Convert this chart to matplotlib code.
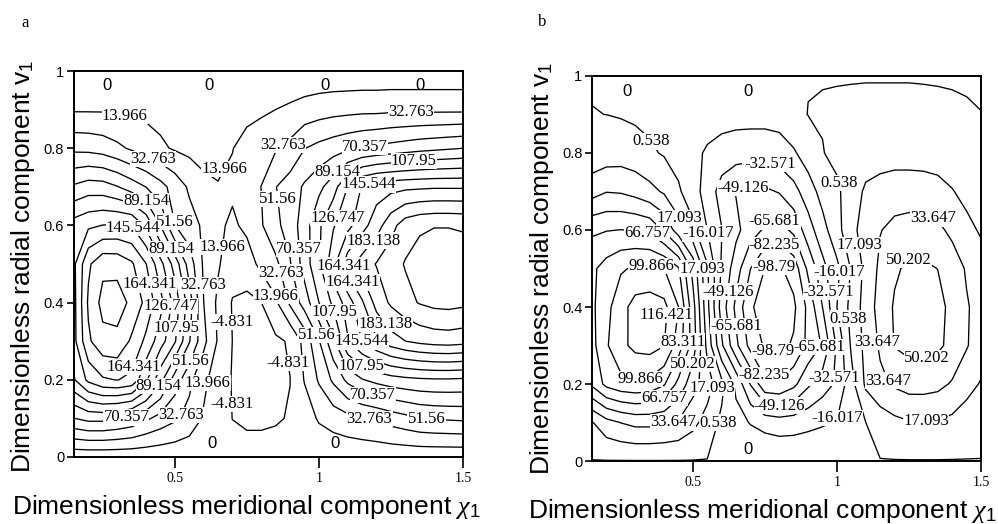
import numpy as np
import matplotlib
matplotlib.use('Agg')
import matplotlib.pyplot as plt

plt.rcParams['font.family'] = 'Liberation Serif'
plt.rcParams['mathtext.fontset'] = 'custom'
plt.rcParams['mathtext.rm'] = 'Liberation Sans'
plt.rcParams['mathtext.it'] = 'Liberation Serif:italic'
plt.rcParams['contour.negative_linestyle'] = 'solid'

# grid of the field (meridional x radial)
X_VALUES = [0.15, 0.2, 0.25, 0.3, 0.35, 0.4, 0.45, 0.5, 0.55, 0.6, 0.65, 0.7, 0.75, 0.8,
            0.85, 0.9, 0.95, 1.0, 1.05, 1.1, 1.15, 1.2, 1.25, 1.3, 1.35, 1.4, 1.45, 1.5]
Y_VALUES = [0.0, 0.1, 0.2, 0.3, 0.4, 0.5, 0.6, 0.7, 0.8, 0.9, 1.0]

LEVELS_A = [-4.831, 13.966, 32.763, 51.56, 70.357, 89.154, 107.95, 126.747,
            145.544, 164.341, 183.138, 201.935, 220.732]
LEVELS_B = [-98.79, -82.235, -65.681, -49.126, -32.571, -16.017, 0.538,
            17.093, 33.647, 50.202, 66.757, 83.311, 99.866, 116.421]

# panel a, one row per radial position
A_Y00 = [0, 0, 0, 0, 0, 0, 0, 0, 0, 0, 0, 0, 0, 0, 0, 0, 0, 0, 0, 0, 0, 0, 0, 0, 0, 0, 0, 0]
A_Y01 = [70, 76, 76, 72, 66, 55, 45, 36, 26, 12, 2, -5, -7, -7, -6, -4, 5, 16, 22, 27, 31, 35, 41, 46, 51, 53, 54, 55]
A_Y02 = [125, 150, 162, 165, 160, 130, 95, 62, 38, 18, 5, -6, -9, -9, -8, -5, 15, 35, 55, 75, 88, 95, 100, 103, 105, 106, 106, 105]
A_Y03 = [140, 180, 196, 197, 180, 160, 135, 110, 72, 38, 12, -5, -9, -10, -8, -3, 20, 50, 85, 125, 146, 162, 175, 183, 188, 191, 192, 190]
A_Y04 = [140, 186, 208, 210, 198, 178, 152, 120, 80, 33, 10, -6, -9, -5, 11, 36, 60, 89, 112, 136, 162, 190, 205, 215, 222, 226, 227, 225]
A_Y05 = [142, 180, 197, 196, 186, 165, 133, 100, 62, 30, 16, 3, 5, 19, 28, 50, 79, 105, 140, 175, 192, 203, 213, 222, 228, 231, 231, 229]
A_Y06 = [135, 142, 146, 147, 145, 123, 89, 52, 40, 30, 17, 11, 18, 31, 47, 60, 80, 105, 125, 140, 157, 175, 195, 212, 218, 220, 220, 219]
A_Y07 = [92, 98, 97, 90, 80, 70, 58, 44, 30, 18, 15, 17, 25, 33, 51, 60, 73, 84, 100, 127, 147, 155, 158, 160, 161, 162, 162, 162]
A_Y08 = [47, 46, 43, 37, 30, 24, 17, 12, 9, 8, 8, 13.5, 20, 25, 31, 38, 51, 57, 62, 67, 71, 74, 77, 80, 83, 85, 87, 89]
A_Y09 = [12, 12, 12, 11, 10, 9, 8, 7, 6, 6, 6, 7, 9, 11, 14, 17, 21, 24, 26, 27, 28, 28, 29, 29, 29, 29, 29, 29]
A_Y10 = [0, 0, 0, 0, 0, 0, 0, 0, 0, 0, 0, 0, 0, 0, 0, 0, 0, 0, 0, 0, 0, 0, 0, 0, 0, 0, 0, 0]

# panel b
B_Y00 = [0, 0, 0, 0, 0, 0, 0, 0, 0, 0, 0, 0, 0, 0, 0, 0, 0, 0, 0, 0, 0, 0, 0, 0, 0, 0, 0, 0]
B_Y01 = [16, 28, 34, 38, 38, 36, 32, 22, 10, -3, -10, -17, -22, -25, -24, -21, -18, -15, -6, 0.5, 8, 13, 16, 16.5, 16, 13, 10, 8]
B_Y02 = [70, 88, 95, 97, 95, 85, 62, 40, 25, 5, -20, -50, -78, -80, -70, -52, -40, -30, -5, 20, 30, 36, 40, 40, 38, 32, 22, 16]
B_Y03 = [78, 98, 112, 121, 123, 117, 92, 60, 12, -30, -62, -88, -101, -103, -97, -78, -64, -30, 3, 22, 36, 51, 55, 56, 53, 46, 35, 24]
B_Y04 = [80, 95, 110, 123, 125, 121, 100, 57, 5, -40, -70, -97, -105, -108, -102, -78, -49, -16, 6, 24, 40, 52, 57, 58, 55, 46, 35, 28]
B_Y05 = [80, 90, 98, 102, 103, 100, 85, 45, 3, -35, -58, -82, -99, -101, -92, -62, -38, -20, 2, 22, 37, 48, 53, 53, 50, 42, 32, 25]
B_Y06 = [64, 66, 67, 66, 63, 48, 25, 5, -16, -32, -45, -58, -68, -72, -62, -40, -22, -5, 12, 25, 33, 38, 40, 40, 37, 30, 22, 15]
B_Y07 = [27, 33, 32, 28, 22, 15, 3, -10, -22, -40, -50, -53, -52, -48, -38, -24, -10, -2, 8, 20, 24, 26, 26, 25, 23, 18, 12, 8]
B_Y08 = [6, 8, 9, 7, 3, -1, -6, -12, -18, -22, -25, -26, -26, -24, -18, -8, 0, 4, 6, 8, 9, 10, 10, 10, 9, 7, 5, 3]
B_Y09 = [0.7, 0.5, -0.5, -2, -3.5, -5, -6, -8, -9, -10, -10, -10, -10, -9, -3, 0.8, 1.5, 2, 2.5, 3, 3, 3, 3, 2.5, 2, 1.5, 1, 0.6]
B_Y10 = [0, 0, 0, 0, 0, 0, 0, 0, 0, 0, 0, 0, 0, 0, 0, 0, 0, 0, 0, 0, 0, 0, 0, 0, 0, 0, 0, 0]

Y_TICKS = [0, 0.2, 0.4, 0.6, 0.8, 1]
Y_TICKLABELS = ['0', '0.2', '0.4', '0.6', '0.8', '1']
X_TICKS = [0.5, 1, 1.5]
X_TICKLABELS = ['0.5', '1', '1.5']


def drawPanel(ax, rows, levels, labelPos, zeroPos):
    z = np.array(rows, dtype=float)
    cs = ax.contour(X_VALUES, Y_VALUES, z, levels=levels, colors='black',
                    linewidths=0.95, linestyles='solid')
    fmt = {lev: f'{lev:g}' for lev in levels}
    texts = ax.clabel(cs, fmt=fmt, fontsize=12, inline=False, manual=labelPos)
    for t in texts:
        t.set_rotation(0)
        t.set_bbox(dict(facecolor='white', edgecolor='none', pad=0.1))

    for x, y in zeroPos:
        ax.text(x, y, '0', family='Liberation Sans', fontsize=12, ha='center', va='center')

    ax.set_xlim(0.15, 1.5)
    ax.set_ylim(0, 1)
    ax.set_xticks(X_TICKS)
    ax.set_xticklabels(X_TICKLABELS, family='Liberation Serif', fontsize=10)
    ax.set_yticks(Y_TICKS)
    ax.set_yticklabels(Y_TICKLABELS, family='Liberation Sans', fontsize=10.5)
    ax.tick_params(axis='x', direction='out', length=8, width=1.2, pad=3)
    ax.tick_params(axis='y', direction='out', length=5, width=1.2, pad=2)
    for sp in ax.spines.values():
        sp.set_linewidth(1.4)


fig = plt.figure(figsize=(9.98, 5.24), dpi=100)
axA = fig.add_axes([0.0741, 0.1279, 0.3898, 0.7366])
axB = fig.add_axes([0.5932, 0.1202, 0.3898, 0.7348])

labelsA = [(0.32, 0.865), (0.417, 0.76), (0.69, 0.74), (0.414, 0.67), (0.5, 0.61),
           (0.35, 0.59), (0.49, 0.54), (0.664, 0.545), (0.40, 0.445), (0.61, 0.445),
           (0.49, 0.39), (0.51, 0.334), (0.685, 0.35), (0.37, 0.23), (0.55, 0.25),
           (0.45, 0.18), (0.62, 0.19), (0.33, 0.11), (0.52, 0.11), (0.70, 0.137),
           (1.32, 0.88), (0.875, 0.81), (1.16, 0.8), (1.33, 0.76), (1.06, 0.74),
           (1.18, 0.685), (0.87, 0.67), (1.06, 0.62), (1.19, 0.56), (0.935, 0.54),
           (1.1, 0.5), (0.88, 0.48), (1.11, 0.45), (0.865, 0.42), (1.06, 0.376),
           (1.25, 0.355), (1.0, 0.32), (1.15, 0.3), (0.914, 0.245), (1.14, 0.23),
           (1.19, 0.165), (1.18, 0.11), (1.375, 0.11)]
zerosA = [(0.265, 0.963), (0.62, 0.963), (1.02, 0.963), (1.35, 0.963), (0.63, 0.035), (1.056, 0.035)]

labelsB = [(0.347, 0.826), (0.776, 0.81), (0.76, 0.75), (0.974, 0.717), (0.68, 0.69),
           (0.45, 0.63), (0.78, 0.63), (0.34, 0.59), (0.545, 0.59), (1.33, 0.625),
           (0.78, 0.57), (1.06, 0.56), (1.24, 0.556), (0.35, 0.49), (0.54, 0.5),
           (0.78, 0.51), (1.01, 0.49), (0.62, 0.44), (0.97, 0.44), (0.40, 0.38),
           (1.04, 0.37), (0.65, 0.35), (0.47, 0.31), (1.14, 0.31), (0.78, 0.29),
           (0.95, 0.29), (1.31, 0.27), (0.51, 0.25), (0.76, 0.23), (0.316, 0.22),
           (0.99, 0.215), (1.18, 0.21), (0.57, 0.19), (0.40, 0.165), (0.80, 0.145),
           (0.43, 0.10), (0.585, 0.1), (1.015, 0.11), (1.31, 0.105)]
zerosB = [(0.27, 0.96), (0.69, 0.96), (0.69, 0.03)]

drawPanel(axA, [A_Y00, A_Y01, A_Y02, A_Y03, A_Y04, A_Y05, A_Y06, A_Y07, A_Y08, A_Y09, A_Y10],
          LEVELS_A, labelsA, zerosA)
drawPanel(axB, [B_Y00, B_Y01, B_Y02, B_Y03, B_Y04, B_Y05, B_Y06, B_Y07, B_Y08, B_Y09, B_Y10],
          LEVELS_B, labelsB, zerosB)

xlab = r'Dimensionless meridional component $\chi_1$'
ylab = r'Dimensionless radial component v$_1$'
fig.text(246 / 998, 1 - 507 / 524, xlab, family='Liberation Sans', fontsize=19, ha='center', va='center')
fig.text(762 / 998, 1 - 511 / 524, xlab, family='Liberation Sans', fontsize=19, ha='center', va='center')
fig.text(23 / 998, 1 - 266 / 524, ylab, family='Liberation Sans', fontsize=19, rotation=90, ha='center', va='center')
fig.text(542 / 998, 1 - 268 / 524, ylab, family='Liberation Sans', fontsize=19, rotation=90, ha='center', va='center')

fig.text(25 / 998, 1 - 23 / 524, 'a', fontsize=12, ha='center', va='center')
fig.text(542 / 998, 1 - 22 / 524, 'b', fontsize=12, ha='center', va='center')

fig.savefig('out.png', dpi=100)
